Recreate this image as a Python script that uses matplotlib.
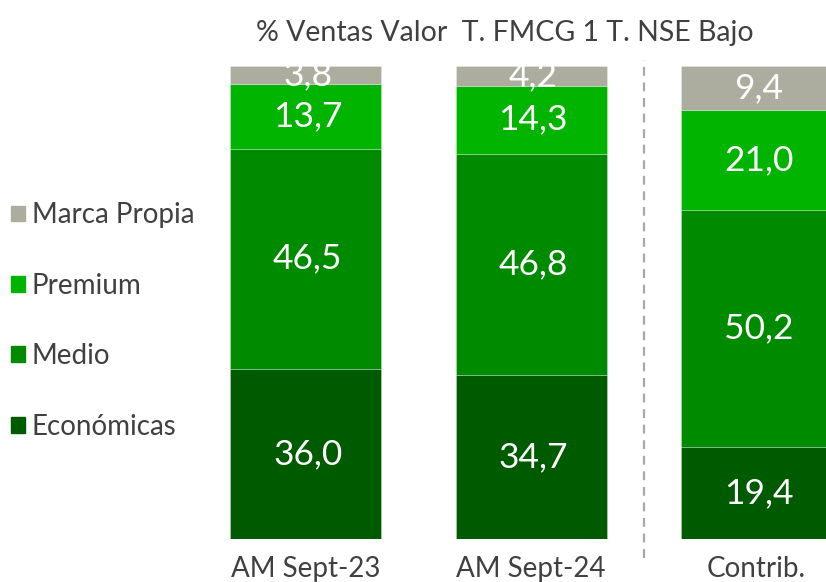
import matplotlib
matplotlib.use("Agg")
import matplotlib.pyplot as plt
from matplotlib.patches import Patch

plt.rcParams["font.family"] = ["Lato", "DejaVu Sans"]

categories = ["AM Sept-23", "AM Sept-24", "Contrib."]
segments = ["Económicas", "Medio", "Premium", "Marca Propia"]
economicas = [36.0, 34.7, 19.4]
medio = [46.5, 46.8, 50.2]
premium = [13.7, 14.3, 21.0]
marca_propia = [3.8, 4.2, 9.4]
title = "% Ventas Valor  T. FMCG 1 T. NSE Bajo"

colors = ["#005A00", "#008A00", "#00B400", "#ADAD9F"]
series = [economicas, medio, premium, marca_propia]

fig = plt.figure(figsize=(8.26, 5.82), dpi=100)
ax = fig.add_axes([230 / 826, 43 / 582, 596 / 826, 473 / 582])

x = list(range(len(categories)))
bottom = [0.0] * len(categories)
for name, vals, col in zip(segments, series, colors):
    bars = ax.bar(x, vals, width=0.67, bottom=bottom, color=col,
                  edgecolor=(1, 1, 1, 0.3), linewidth=0.6, label=name)
    for xi, v, b in zip(x, vals, bottom):
        ax.text(xi + 0.01, b + v / 2, f"{v:.1f}".replace(".", ","), ha="center",
                va="center", color="white", fontsize=25.5, clip_on=True)
    bottom = [b + v for b, v in zip(bottom, vals)]

ax.set_xlim(-0.335, 2.308)
ax.set_ylim(0, 100)
ax.set_xticks(x)
ax.set_xticklabels(categories, fontsize=20, color="#404040")
ax.tick_params(axis="x", length=0, pad=12)
ax.set_yticks([])
for s in ax.spines.values():
    s.set_visible(False)

# separator between the periods and the contribution bar
ax.axvline(1.5, ymin=-0.04, ymax=1.013, color="#A8A8A8", linestyle=(0, (4, 3)),
           linewidth=1.6, clip_on=False)

fig.text(505 / 826, 1 - 33 / 582, title, ha="center", va="center",
         fontsize=20.5, color="#404040")

handles = [Patch(color=c) for c in colors][::-1]
fig.legend(handles, segments[::-1], loc="center left",
           bbox_to_anchor=(-0.017, 1 - 321 / 582), frameon=False,
           prop={"size": 20},
           handlelength=0.5, handleheight=0.5, handletextpad=0.25,
           labelspacing=1.6, labelcolor="#404040")

fig.savefig("out.png", dpi=100)
